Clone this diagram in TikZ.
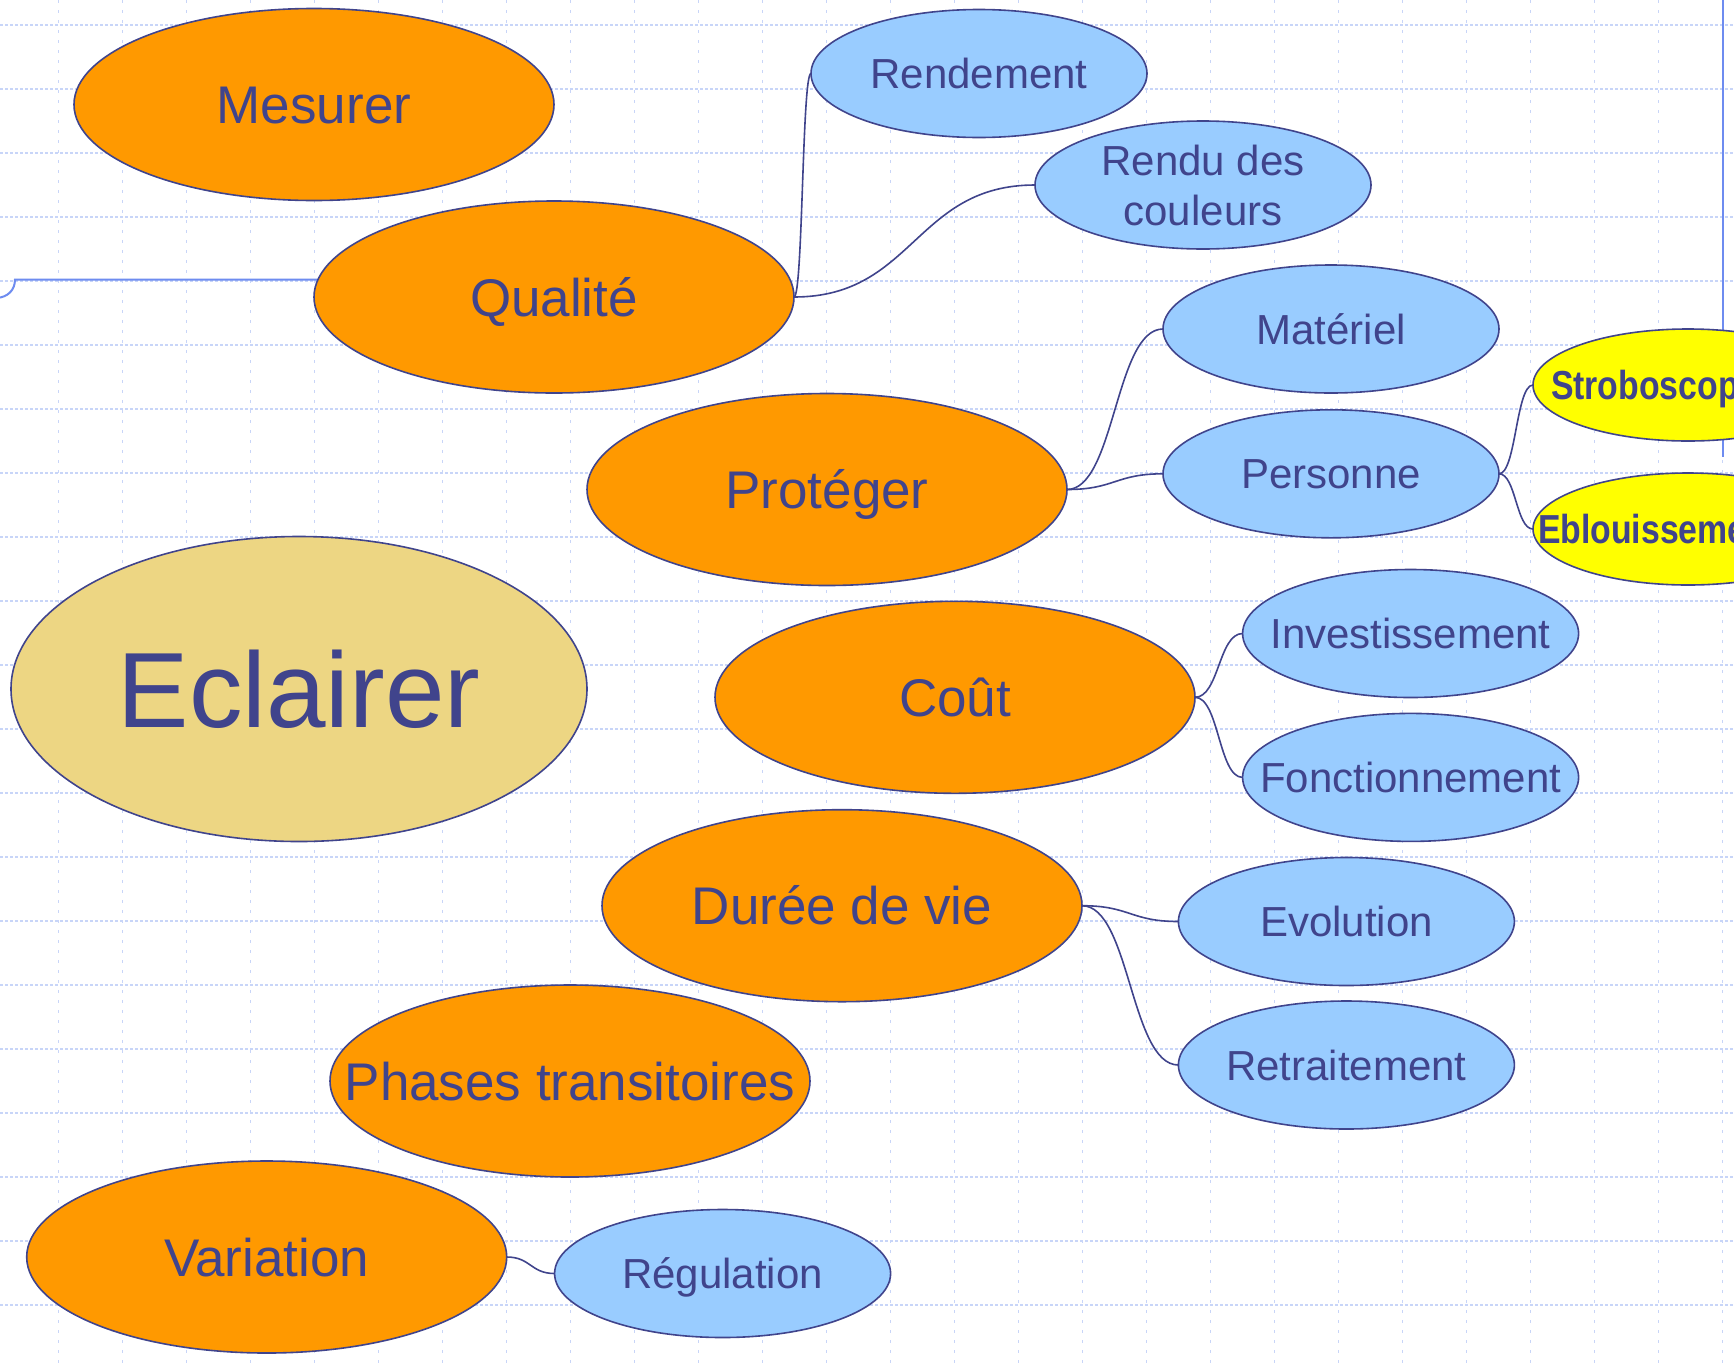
\documentclass[tikz,border=0pt]{standalone}
\usepackage{fontspec}
\setmainfont{Liberation Sans}
\newfontface\yfont{Liberation Sans Bold}[FakeStretch=0.835]
\usetikzlibrary{shapes.geometric}
\definecolor{navy}{RGB}{64,68,140}
\definecolor{orangefill}{RGB}{255,153,0}
\definecolor{bluefill}{RGB}{153,204,255}
\definecolor{yellowfill}{RGB}{255,255,0}
\definecolor{sand}{RGB}{237,214,131}
\definecolor{gridcol}{RGB}{200,213,248}
\definecolor{framecol}{RGB}{110,140,240}
\newcommand\tx[1]{\makebox[0pt]{#1}}
\newcommand\txl[2]{\makebox[0pt][l]{\hspace*{#1}#2}}
\tikzset{
  bubble/.style={ellipse, draw=navy, line width=1.6pt, inner sep=0pt, outer sep=0pt, text=navy, text depth=0pt},
  orangebox/.style={bubble, fill=orangefill, minimum width=480pt, minimum height=192pt, font=\fontsize{53}{60}\selectfont, text height=38pt},
  bluebox/.style={bubble, fill=bluefill, minimum width=336pt, minimum height=128pt, font=\fontsize{42}{50}\selectfont, text height=30pt},
  yellowbox/.style={bubble, fill=yellowfill, minimum width=310pt, minimum height=112pt, font=\yfont\fontsize{40.5}{48}\selectfont, text height=29pt},
  mainbox/.style={bubble, fill=sand, minimum width=576pt, minimum height=305pt, font=\fontsize{107}{120}\selectfont, text height=76.6pt},
  conn/.style={draw=navy, line width=1.6pt},
  gridh/.style={draw=gridcol, line width=1.4pt, dash pattern=on 3pt off 2pt},
  gridv/.style={draw=gridcol, line width=1.4pt, dash pattern=on 3pt off 7pt},
  frameline/.style={draw=framecol, line width=2pt}
}
\begin{document}
\begin{tikzpicture}[x=1pt,y=-1pt]
\useasboundingbox (0,0) rectangle (1734,1363);
\clip (0,0) rectangle (1734,1363);
\fill[white] (0,0) rectangle (1734,1363);
% grid
\foreach \k in {0,...,20} \draw[gridh] (0,{25+64*\k}) -- (1734,{25+64*\k});
\foreach \k in {0,...,26} \draw[gridv] ({58.7+64*\k},0) -- ({58.7+64*\k},1363);
% frame lines
\draw[frameline] (330,279.5) -- (15,279.5) .. controls (15,290) and (8,297) .. (-3,298);
\draw[frameline] (1723,0) -- (1723,457);
% main nodes
\node[orangebox] (mes) at (314,104.5) {\tx{Mesurer}};
\node[orangebox] (qua) at (554,297) {\tx{Qualité}};
\node[orangebox] (pro) at (827,489.5) {\tx{Protéger}};
\node[mainbox] (ecl) at (299,689) {\tx{Eclairer}};
\node[orangebox] (cou) at (955,697.3) {\tx{Coût}};
\node[orangebox] (dur) at (842,905.7) {\tx{Durée de vie}};
\node[orangebox] (pha) at (570,1081) {\tx{Phases transitoires}};
\node[orangebox] (var) at (266.7,1257) {\tx{Variation}};
% sub nodes
\node[bluebox] (ren) at (979,73.5) {\tx{Rendement}};
\node[bluebox, align=center, text height=, text depth=] (rdc) at (1203,185) {Rendu des\\couleurs};
\node[bluebox] (mat) at (1331,329) {\tx{Matériel}};
\node[bluebox] (per) at (1331,473.8) {\tx{Personne}};
\node[yellowbox] (str) at (1688,385) {\txl{-137pt}{Stroboscopie}};
\node[yellowbox] (ebl) at (1688,529) {\txl{-150pt}{Eblouissement}};
\node[bluebox] (inv) at (1410.6,633.5) {\tx{Investissement}};
\node[bluebox] (fon) at (1410.6,777.4) {\tx{Fonctionnement}};
\node[bluebox] (evo) at (1346.4,921.5) {\tx{Evolution}};
\node[bluebox] (ret) at (1346.4,1065) {\tx{Retraitement}};
\node[bluebox] (reg) at (722.6,1273.5) {\tx{Régulation}};
% connectors
\draw[conn] (qua.east) .. controls +(9,0) and +(-9,0) .. (ren.west);
\draw[conn] (qua.east) .. controls +(120,0) and +(-120,0) .. (rdc.west);
\draw[conn] (pro.east) .. controls +(48,0) and +(-48,0) .. (mat.west);
\draw[conn] (pro.east) .. controls +(48,0) and +(-48,0) .. (per.west);
\draw[conn] (per.east) .. controls +(17,0) and +(-17,0) .. (str.west);
\draw[conn] (per.east) .. controls +(17,0) and +(-17,0) .. (ebl.west);
\draw[conn] (cou.east) .. controls +(24,0) and +(-24,0) .. (inv.west);
\draw[conn] (cou.east) .. controls +(24,0) and +(-24,0) .. (fon.west);
\draw[conn] (dur.east) .. controls +(48,0) and +(-48,0) .. (evo.west);
\draw[conn] (dur.east) .. controls +(48,0) and +(-48,0) .. (ret.west);
\draw[conn] (var.east) .. controls +(24,0) and +(-24,0) .. (reg.west);
\end{tikzpicture}
\end{document}
